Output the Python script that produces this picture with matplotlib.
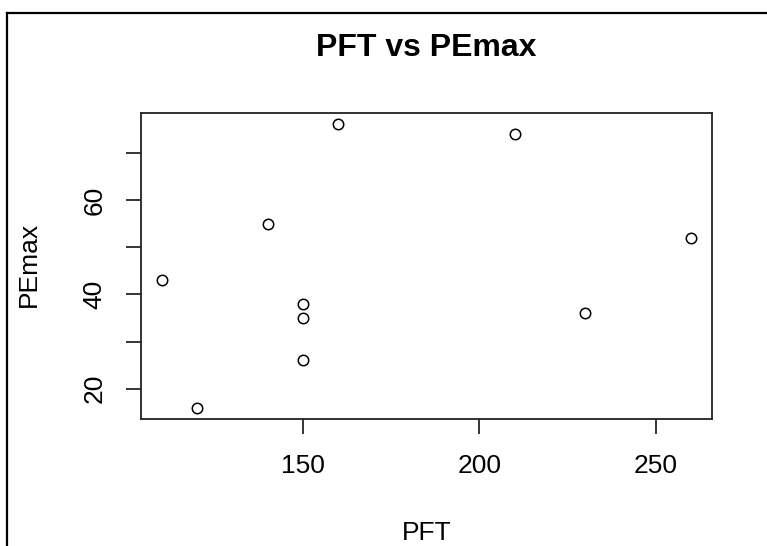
import matplotlib
matplotlib.use("Agg")
import matplotlib.pyplot as plt
from matplotlib.lines import Line2D

plt.rcParams['font.family'] = ['Liberation Sans', 'DejaVu Sans']

# data
pft = [110, 120, 140, 150, 150, 150, 160, 210, 230, 260]
pemax = [43, 16, 55, 38, 35, 26, 76, 74, 36, 52]

x_ticks = [150, 200, 250]
y_ticks = [20, 30, 40, 50, 60, 70]
y_tick_labels = ['20', '', '40', '', '60', '']

W, H = 767, 546
fig = plt.figure(figsize=(W / 100, H / 100), dpi=100)
ax = fig.add_axes([141 / W, 1 - 419 / H, (712 - 141) / W, (419 - 113) / H])

ax.plot(pft, pemax, linestyle='none', marker='o', markersize=7.5,
        markerfacecolor='none', markeredgecolor='black', markeredgewidth=1.1)

# R style limits: 4% padding on each side
x_pad = (max(pft) - min(pft)) * 0.04
y_pad = (max(pemax) - min(pemax)) * 0.04
ax.set_xlim(min(pft) - x_pad, max(pft) + x_pad)
ax.set_ylim(min(pemax) - y_pad, max(pemax) + y_pad)

ax.set_xticks(x_ticks)
ax.set_xticklabels([str(t) for t in x_ticks], fontsize=19)
ax.set_yticks(y_ticks)
ax.set_yticklabels(y_tick_labels, fontsize=19, rotation=90, va='center')

ax.tick_params(direction='out', length=11, width=1.1, color='black', pad=14)
for sp in ax.spines.values():
    sp.set_linewidth(1.3)
    sp.set_color('#222222')

fig.text(426.5 / W, 1 - 48 / H, 'PFT vs PEmax', fontsize=23, fontweight='bold',
         ha='center', va='center')
fig.text(426.5 / W, 1 - 540 / H, 'PFT', fontsize=19, ha='center', va='baseline')
fig.text(29 / W, 1 - 264 / H, 'PEmax', fontsize=19, rotation=90,
         ha='center', va='center')

# window border (left and top edges)
fig.add_artist(Line2D([7.3 / W, 7.3 / W], [0, 1 - 13.3 / H],
                      color='black', linewidth=1.6, transform=fig.transFigure))
fig.add_artist(Line2D([7.3 / W, 1], [1 - 13.3 / H, 1 - 13.3 / H],
                      color='black', linewidth=1.6, transform=fig.transFigure))

fig.savefig('out.png', dpi=100)
